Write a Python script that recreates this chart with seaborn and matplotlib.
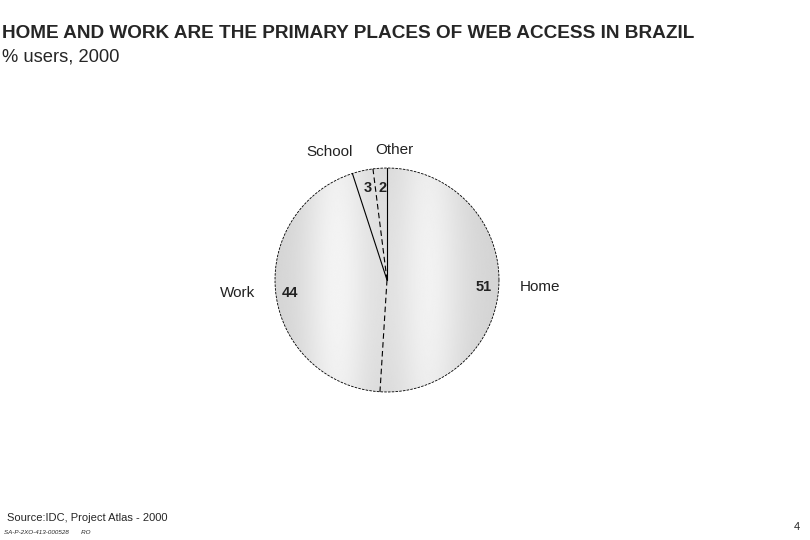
import numpy as np
import matplotlib
matplotlib.use("Agg")
import matplotlib.pyplot as plt
import seaborn as sns

# data
places = ["Home", "Work", "School", "Other"]
shares = [51, 44, 3, 2]

sns.set_style("white")
plt.rcParams['font.family'] = ['Liberation Sans', 'DejaVu Sans']

fig = plt.figure(figsize=(8.1, 5.4), dpi=100)
ax = fig.add_axes([0, 0, 1, 1])

cx, cy, r = 387, 260, 112

wedges, _ = ax.pie(shares, startangle=90, counterclock=False, radius=r,
                   center=(cx, cy), colors=["#dcdcdc"] * 4,
                   wedgeprops=dict(linewidth=0), frame=True)

# soft shading like the original
xs = np.linspace(-1, 1, 300)
X, Y = np.meshgrid(xs, xs)
shade = (0.85
         + 0.11 * np.exp(-((X + 0.45) / 0.3) ** 2)
         + 0.10 * np.exp(-((X - 0.38) / 0.3) ** 2)
         - 0.02 * (X**2 + Y**2))
shade = np.clip(shade, 0, 1)
for w in wedges:
    im = ax.imshow(shade, cmap="gray", vmin=0, vmax=1,
                   extent=(cx - r, cx + r, cy - r, cy + r), origin="lower",
                   interpolation="bilinear", zorder=1)
    im.set_clip_path(w)

ax.set_xlim(0, 810)
ax.set_ylim(0, 540)
ax.set_aspect("equal")
ax.axis("off")

# boundaries between slices
bounds = np.concatenate([[0], np.cumsum(shares)])
styles = ["-", (0, (5, 3)), "-", (0, (5, 3))]
for b, ls in zip(bounds[:-1], styles):
    ang = np.deg2rad(90 - 360 * b / 100)
    ax.plot([cx, cx + r * np.cos(ang)], [cy, cy + r * np.sin(ang)],
            color="black", lw=0.8, linestyle=ls, zorder=3)
t = np.linspace(0, 2 * np.pi, 400)
ax.plot(cx + r * np.cos(t), cy + r * np.sin(t), color="black", lw=0.6,
        linestyle=(0, (3, 1.5)), zorder=3)

# slice labels
name_pos = {"Home": (520, 253, "left"), "Work": (255, 247, "right"),
            "School": (353, 388, "right"), "Other": (375, 390, "left")}
value_pos = {"Home": (492, 253, "right"), "Work": (282, 247, "left"),
             "School": (368, 352, "center"), "Other": (383, 352, "center")}
for p, v in zip(places, shares):
    x, y, ha = name_pos[p]
    ax.text(x, y, p, fontsize=11, ha=ha, va="center", color="#222222")
    x, y, ha = value_pos[p]
    ax.text(x, y, str(v), fontsize=10.5, fontweight="bold", ha=ha,
            va="center", color="#222222")

fig.text(2 / 810, 1 - 33 / 540, "HOME AND WORK ARE THE PRIMARY PLACES OF WEB ACCESS IN BRAZIL",
         fontsize=13.7, fontweight="bold", va="center", ha="left")
fig.text(2 / 810, 1 - 57 / 540, "% users, 2000", fontsize=13.2, va="center", ha="left")
fig.text(7 / 810, 1 - 518 / 540, "Source:IDC, Project Atlas - 2000", fontsize=8,
         va="center", ha="left")
fig.text(4 / 810, 1 - 533 / 540, "SA-P-2XO-413-000528       RO", fontsize=4.5,
         style="italic", va="center", ha="left")
fig.text(797 / 810, 1 - 527 / 540, "4", fontsize=8, va="center", ha="center")

fig.savefig("out.png", dpi=100)
